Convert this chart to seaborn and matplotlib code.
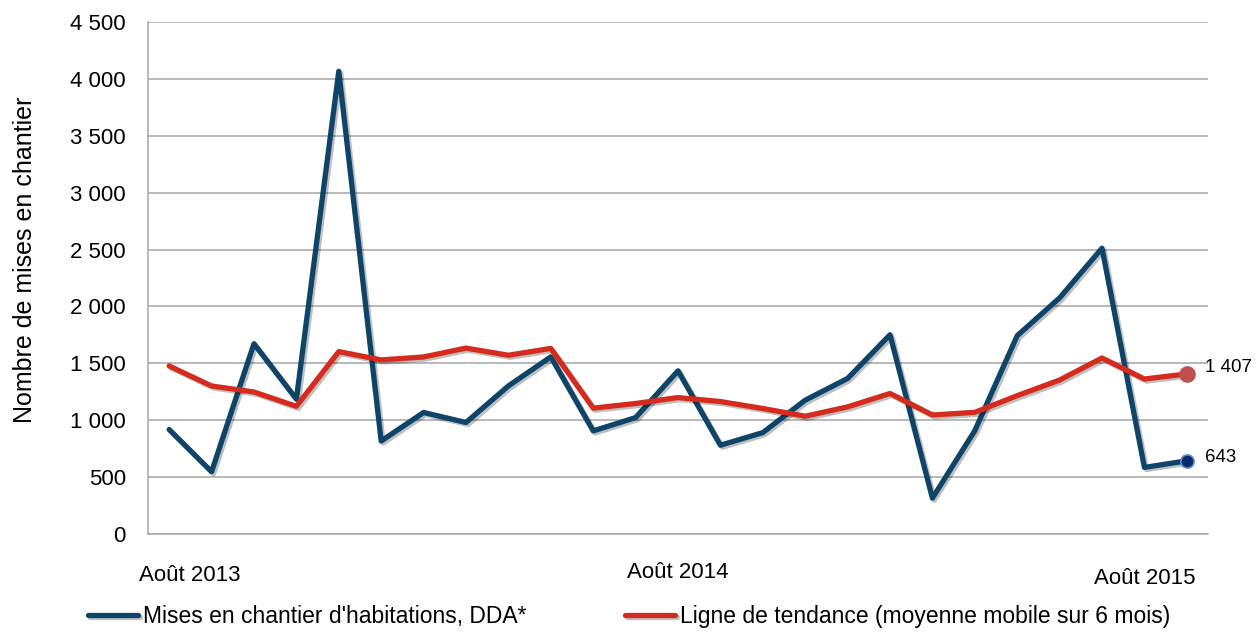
import pandas as pd
import matplotlib.pyplot as plt
import matplotlib.patheffects as pe
from matplotlib.transforms import ScaledTranslation
from matplotlib.ticker import FuncFormatter
import seaborn as sns

# Style général
sns.set_style("white")
plt.rcParams['font.family'] = ['Liberation Sans', 'DejaVu Sans']
plt.rcParams['text.color'] = 'black'
plt.rcParams['axes.labelcolor'] = 'black'

# Mois (août 2013 -> août 2015)
mois = ["2013-08", "2013-09", "2013-10", "2013-11", "2013-12",
        "2014-01", "2014-02", "2014-03", "2014-04", "2014-05", "2014-06", "2014-07",
        "2014-08", "2014-09", "2014-10", "2014-11", "2014-12",
        "2015-01", "2015-02", "2015-03", "2015-04", "2015-05", "2015-06", "2015-07",
        "2015-08"]

# Mises en chantier d'habitations, DDA
mises_en_chantier = [918, 547, 1672, 1185, 4067, 817, 1068, 980, 1301, 1557,
                     906, 1023, 1434, 780, 891, 1176, 1367, 1751, 315,
                     908, 1743, 2075, 2512, 585, 643]

# Moyenne mobile sur 6 mois
tendance = [1477, 1301, 1248, 1122, 1603, 1530, 1556, 1634, 1571, 1631,
            1106, 1147, 1199, 1164, 1103, 1035, 1117, 1235, 1046,
            1069, 1216, 1353, 1547, 1362, 1407]

tick_labels = {"2013-08": "Août 2013", "2014-08": "Août 2014", "2015-08": "Août 2015"}

df = pd.DataFrame({"mois": mois, "pos": range(len(mois)),
                   "mises": mises_en_chantier, "tendance": tendance})

bleu = "#0d4467"
rouge = "#d52b1e"

fig, ax = plt.subplots(figsize=(12.56, 6.32), dpi=100)
fig.subplots_adjust(left=0.1178, right=0.9618, top=0.9652, bottom=0.1551)

ombre = [pe.SimpleLineShadow(offset=(1.5, -1.5), alpha=0.25), pe.Normal()]

sns.lineplot(data=df, x="pos", y="mises", ax=ax, color=bleu, linewidth=3.8,
             label="Mises en chantier d'habitations, DDA*", path_effects=ombre)
sns.lineplot(data=df, x="pos", y="tendance", ax=ax, color=rouge, linewidth=3.8,
             label="Ligne de tendance (moyenne mobile sur 6 mois)", path_effects=ombre)

# Points de fin de série
last = df.iloc[-1]
ax.scatter([last["pos"]], [last["tendance"]], s=120, color="#c0504d", zorder=5)
ax.scatter([last["pos"]], [last["mises"]], s=90, color="#0b2a6b",
           edgecolor="#5b8fd0", linewidth=1.2, zorder=5)
fmt = lambda v: f"{v:,.0f}".replace(",", " ")
ax.annotate(fmt(last["tendance"]), (last["pos"], last["tendance"]),
            xytext=(13, 4.5), textcoords="offset points", va="center",
            fontsize=13.5, color="black")
ax.annotate(fmt(last["mises"]), (last["pos"], last["mises"]),
            xytext=(13, 2.5), textcoords="offset points", va="center",
            fontsize=13.5, color="black")

# Axes
ax.set_xlim(-0.5, len(mois) - 0.5)
ax.set_ylim(0, 4500)
ax.set_yticks(range(0, 4501, 500))
ax.yaxis.set_major_formatter(FuncFormatter(lambda v, p: fmt(v)))
ticks = [i for i, m in enumerate(mois) if m in tick_labels]
ax.set_xticks(ticks)
ax.set_xticklabels([tick_labels[mois[i]] for i in ticks])
ax.tick_params(axis="both", length=0, labelsize=16, colors="black")
ax.tick_params(axis="x", pad=20)
ax.tick_params(axis="y", pad=16)
labels = ax.get_xticklabels()
labels[0].set_transform(labels[0].get_transform() + ScaledTranslation(0.21, -0.03, fig.dpi_scale_trans))
labels[-1].set_transform(labels[-1].get_transform() + ScaledTranslation(-0.42, -0.06, fig.dpi_scale_trans))

ax.set_xlabel("")
ax.set_ylabel("Nombre de mises en chantier", fontsize=18, color="black")
ax.yaxis.set_label_coords(-0.105, 0.535)

ax.grid(axis="y", color="#a6a6a6", linewidth=1.1)
ax.set_axisbelow(True)
for s in ["top", "right"]:
    ax.spines[s].set_visible(False)
for s in ["left", "bottom"]:
    ax.spines[s].set_color("#a6a6a6")
    ax.spines[s].set_linewidth(1.1)

ax.legend_.remove()
handles, labs = ax.get_legend_handles_labels()
leg = fig.legend(handles, labs, loc="lower left", bbox_to_anchor=(0.070, 0.006), ncol=2,
                 frameon=False, fontsize=16.5, handlelength=2.2, handletextpad=0.2,
                 columnspacing=4.3, borderpad=0, borderaxespad=0)
for t in leg.get_texts():
    t.set_color("black")

plt.savefig("out.png", dpi=100)
